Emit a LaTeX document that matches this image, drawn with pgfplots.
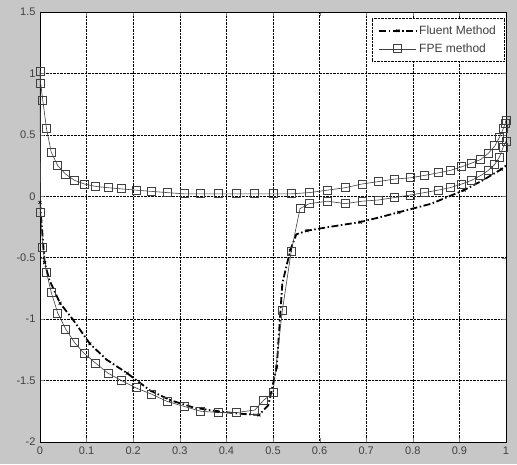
\documentclass[border=0pt]{standalone}
\usepackage{pgfplots}
\pgfplotsset{compat=1.18}
\usepackage{fontspec}
\setmainfont{Liberation Sans}
\begin{document}
\begin{tikzpicture}
\fill[black!22] (-40pt,-22pt) rectangle (477pt,442pt);
\useasboundingbox (-40pt,-22pt) rectangle (477pt,442pt);
\begin{axis}[
  at={(0pt,0pt)}, anchor=south west,
  scale only axis, width=466pt, height=430pt,
  xmin=0, xmax=1, ymin=-2, ymax=1.5,
  xtick={0,0.1,0.2,0.3,0.4,0.5,0.6,0.7,0.8,0.9,1},
  xticklabels={0,0.1,0.2,0.3,0.4,0.5,0.6,0.7,0.8,0.9,1},
  ytick={-2,-1.5,-1,-0.5,0,0.5,1,1.5},
  yticklabels={-2,-1.5,-1,-0.5,0,0.5,1,1.5},
  tick align=inside, major tick length=4pt,
  grid=major, major grid style={densely dotted, black, line width=0.6pt},
  axis background/.style={fill=white},
  axis line style={black, line width=0.8pt},
  tick label style={font=\fontsize{11}{13}\selectfont, text=black!75},
  xticklabel style={yshift=-1pt},
  yticklabel style={xshift=-1pt},
  legend style={at={(0.996,0.985)}, anchor=north east, draw=black, densely dotted,
    font=\fontsize{12}{15}\selectfont, fill=white, inner xsep=6pt, inner ysep=5pt,
    row sep=4pt, text=black!75},
  legend cell align=left,
  legend image code/.code={\draw[#1, mark repeat=2, mark phase=2] plot coordinates {(0cm,0cm) (0.65cm,0cm) (1.3cm,0cm)};},
]
% Fluent method (lower surface)
\addplot[black, line width=1.8pt, dash pattern=on 7pt off 2.5pt on 1.5pt off 2.5pt,
  mark=x, mark size=2pt, mark repeat=2, mark options={solid, line width=0.8pt}]
coordinates {
(0,-0.05) (0.003,-0.2) (0.01,-0.54) (0.02,-0.68) (0.043,-0.87) (0.07,-1.0)
(0.107,-1.2) (0.143,-1.33) (0.187,-1.44) (0.236,-1.58) (0.28,-1.66) (0.33,-1.72)
(0.38,-1.75) (0.43,-1.77) (0.47,-1.78) (0.49,-1.70) (0.508,-1.39) (0.52,-0.71)
(0.537,-0.44) (0.55,-0.31) (0.573,-0.28) (0.62,-0.25) (0.687,-0.21) (0.73,-0.17)
(0.77,-0.13) (0.84,-0.06) (0.91,0.05) (0.95,0.13) (0.99,0.22) (1,0.25)
};
\addlegendentry{Fluent Method}
% FPE method upper
\addplot[black!75, line width=0.6pt, mark=square, mark size=4pt,
  mark options={solid, line width=0.9pt}]
coordinates {
(0,1.02) (0.0015,0.92) (0.006,0.78) (0.014,0.55) (0.024,0.36) (0.038,0.25)
(0.055,0.18) (0.074,0.13) (0.095,0.10) (0.12,0.08) (0.146,0.07) (0.175,0.06)
(0.206,0.05) (0.239,0.04) (0.273,0.03) (0.309,0.02) (0.345,0.02) (0.383,0.02)
(0.422,0.02) (0.461,0.02) (0.5,0.02) (0.539,0.02) (0.578,0.03) (0.617,0.05)
(0.655,0.07) (0.691,0.10) (0.727,0.12) (0.761,0.14) (0.794,0.15) (0.825,0.17)
(0.854,0.19) (0.880,0.21) (0.905,0.24) (0.926,0.27) (0.946,0.30) (0.962,0.35)
(0.976,0.41) (0.986,0.48) (0.994,0.55) (0.998,0.59) (1,0.62)
};
\addlegendentry{FPE method}
% FPE method lower
\addplot[black!75, line width=0.6pt, mark=square, mark size=4pt,
  mark options={solid, line width=0.9pt}, forget plot]
coordinates {
(0,1.02) (0.0015,-0.13) (0.006,-0.42) (0.014,-0.62) (0.024,-0.78) (0.038,-0.95)
(0.055,-1.08) (0.074,-1.19) (0.095,-1.28) (0.12,-1.36) (0.146,-1.44) (0.175,-1.50)
(0.206,-1.56) (0.239,-1.61) (0.273,-1.67) (0.309,-1.71) (0.345,-1.75) (0.383,-1.76)
(0.422,-1.76) (0.461,-1.74) (0.48,-1.66) (0.5,-1.60) (0.52,-0.93) (0.539,-0.45)
(0.558,-0.10) (0.578,-0.06) (0.617,-0.04) (0.655,-0.06) (0.691,-0.04) (0.727,-0.03)
(0.761,-0.01) (0.794,0.01) (0.825,0.03) (0.854,0.05) (0.880,0.07) (0.905,0.10)
(0.926,0.13) (0.946,0.17) (0.962,0.21) (0.976,0.26) (0.986,0.32) (0.994,0.40) (1,0.45)
};
\end{axis}
\end{tikzpicture}
\end{document}
